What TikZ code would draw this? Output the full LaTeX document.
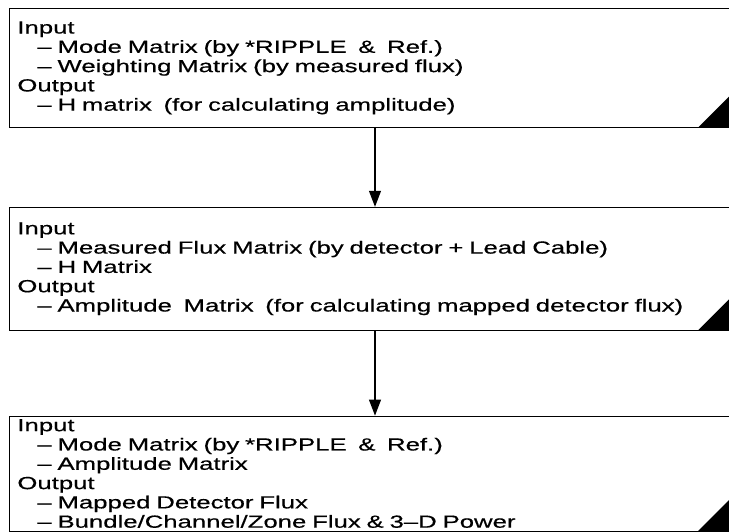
\documentclass[tikz,border=0pt]{standalone}
\usepackage{fontspec}
\setmainfont{Liberation Sans}[FakeStretch=1.47, FakeBold=0.5]
\usepackage{tikz}
\usetikzlibrary{positioning}
\usetikzlibrary{arrows.meta}

\tikzset{
    panel/.style={draw, line width=0.8pt, anchor=north west, align=left,
        minimum width=722pt, text width=706pt, inner xsep=8pt, inner ysep=0pt,
        font=\fontsize{17.5}{19.3}\selectfont},
    flow/.style={-{Triangle[width=12pt,length=16pt]}, line width=1.1pt},
    corner/.style={fill=black}
}
\newcommand{\itemline}[1]{\hspace*{20pt}–\ #1}

\begin{document}
\begin{tikzpicture}[x=1pt, y=1pt]
    \useasboundingbox (0,0) rectangle (729,-532);

    \node [panel, minimum height=119pt] (s1) at (9,-8) {Input\\
        \itemline{Mode Matrix (by *RIPPLE \ \& \ Ref.)}\\
        \itemline{Weighting Matrix (by measured flux)}\\
        Output\\
        \itemline{H matrix \ (for calculating amplitude)}};
    \node [panel, minimum height=123pt, below=79pt of s1] (s2) {Input\\
        \itemline{Measured Flux Matrix (by detector + Lead Cable)}\\
        \itemline{H Matrix}\\
        Output\\
        \itemline{Amplitude \ Matrix \ (for calculating mapped detector flux)}};
    \node [panel, minimum height=115pt, below=85pt of s2] (s3) {Input\\
        \itemline{Mode Matrix (by *RIPPLE \ \& \ Ref.)}\\
        \itemline{Amplitude Matrix}\\
        Output\\
        \itemline{Mapped Detector Flux}\\
        \itemline{Bundle/Channel/Zone Flux \& 3--D Power}};

    % corner marks
    \foreach \s in {s1, s2, s3} {
        \fill [corner] ([xshift=-34pt]\s.south east) -- (\s.south east) -- ([yshift=34pt]\s.south east) -- cycle;
    }

    \coordinate (mid) at (375,0);
    \draw [flow] (mid |- s1.south) -- (mid |- s2.north);
    \draw [flow] (mid |- s2.south) -- (mid |- s3.north);
\end{tikzpicture}
\end{document}
